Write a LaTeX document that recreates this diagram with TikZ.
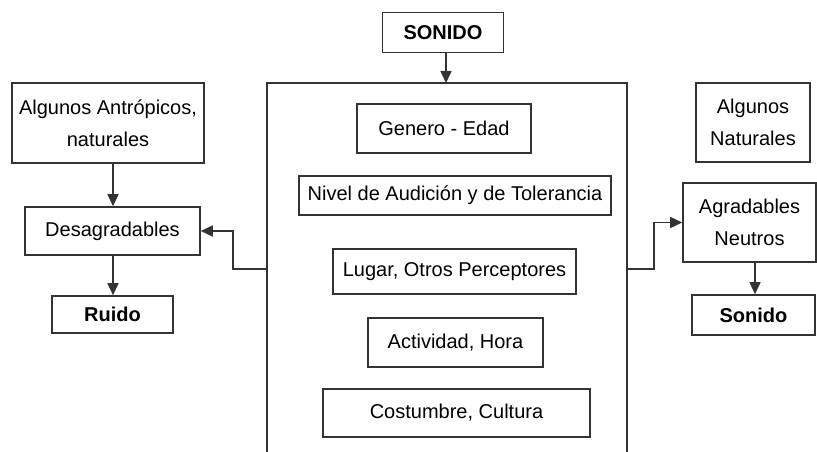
\documentclass[tikz,border=0pt]{standalone}
\usepackage{fontspec}
\setmainfont{Liberation Sans}
\usepackage{tikz}
\usetikzlibrary{arrows.meta}

\begin{document}
\begin{tikzpicture}
  [x=1pt,y=-1pt,
   every node/.style={rectangle,draw=black!80,line width=1.6pt,inner sep=0pt,align=center,
     font=\fontsize{20}{32}\selectfont},
   linea/.style={draw=black!80,line width=1.6pt},
   flecha/.style={linea,-{Triangle[length=12pt,width=11pt]}}]
  \useasboundingbox (0,0) rectangle (817,452);

  \node[minimum width=121pt,minimum height=40pt] (sonido) at (443,32.5) {\textbf{SONIDO}};

  \coordinate (marcoarriba) at (446,83);
  \coordinate (marcoizq) at (267,269);
  \coordinate (marcoder) at (627,269);
  \draw[linea] (267,452) |- (627,83) -- (627,452);

  \node[minimum width=174pt,minimum height=49pt] (genero) at (444,128.5) {Genero - Edad};
  \node[minimum width=312pt,minimum height=39pt] (nivel) at (455,195.5) {Nivel de Audición y de Tolerancia};
  \node[minimum width=243pt,minimum height=45pt] (lugar) at (454.5,271.5) {Lugar, Otros Perceptores};
  \node[minimum width=175pt,minimum height=49pt] (actividad) at (455.5,342.5) {Actividad, Hora};
  \node[minimum width=267pt,minimum height=48pt] (costumbre) at (456.5,413) {Costumbre, Cultura};

  \node[minimum width=192pt,minimum height=80pt] (antropicos) at (108,123) {Algunos Antrópicos,\\naturales};
  \node[minimum width=175pt,minimum height=48pt] (desagradables) at (112.5,231) {Desagradables};
  \node[minimum width=121pt,minimum height=37pt] (ruido) at (112.5,314.5) {\textbf{Ruido}};
  \coordinate (codoizq) at (233,269);

  \node[minimum width=114pt,minimum height=79pt] (naturales) at (753,122.5) {Algunos\\Naturales};
  \node[minimum width=133pt,minimum height=79pt] (agradables) at (749.5,222.5) {Agradables\\Neutros};
  \node[minimum width=123pt,minimum height=40pt] (sonidob) at (753.5,315) {\textbf{Sonido}};
  \coordinate (cododer) at (654,269);

  \draw[flecha] (sonido.south -| marcoarriba) -- (marcoarriba);
  \draw[flecha] (antropicos.south -| 113,0) -- (desagradables.north -| 113,0);
  \draw[flecha] (desagradables.south -| 113,0) -- (ruido.north -| 113,0);
  \draw[flecha] (marcoizq) -- (codoizq) |- (desagradables);
  \draw[flecha] (marcoder) -- (cododer) |- (agradables);
  \draw[flecha] (agradables.south -| 755,0) -- (sonidob.north -| 755,0);
\end{tikzpicture}
\end{document}
